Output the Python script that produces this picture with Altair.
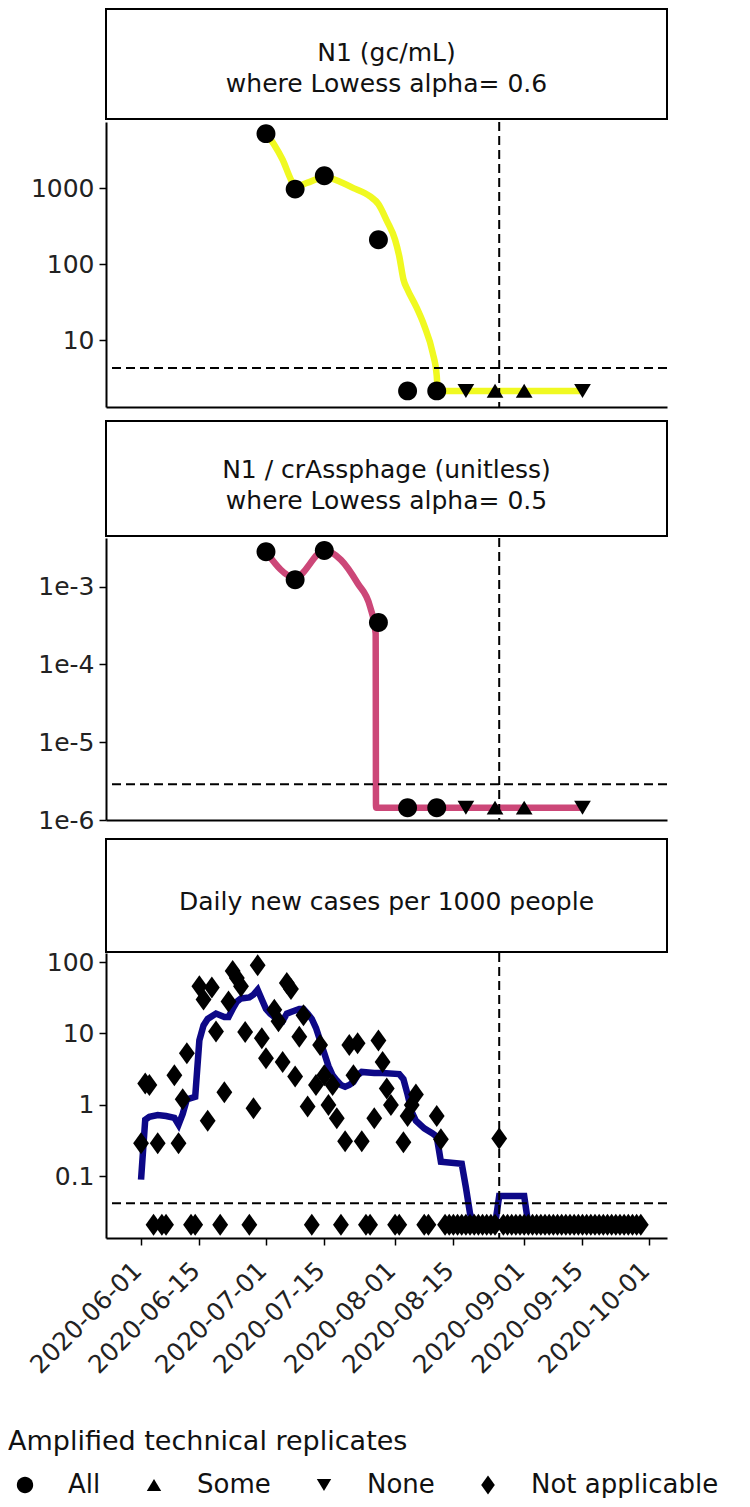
import altair as alt
import pandas as pd

FONT = "DejaVu Sans"

# ---------------- data ----------------
sample_dates = ["2020-07-01", "2020-07-08", "2020-07-15", "2020-07-28", "2020-08-04",
                "2020-08-11", "2020-08-18", "2020-08-25", "2020-09-01", "2020-09-15"]
sample_replicates = ["All", "All", "All", "All", "All", "All", "None", "Some", "Some", "None"]
n1_values = [5200, 970, 1450, 209, 2.15, 2.15, 2.15, 2.15, 2.15, 2.15]
ratio_values = [2.8e-3, 1.22e-3, 2.9e-3, 3.44e-4, 1.44e-6, 1.44e-6, 1.44e-6, 1.44e-6, 1.44e-6, 1.44e-6]

n1_lod = 4.3
ratio_lod = 2.87e-6
cases_lod = 0.042
marker_date = (2020, 8, 26)

n1_fit_dates = ["2020-07-01", "2020-07-03", "2020-07-05", "2020-07-07", "2020-07-08",
                "2020-07-11", "2020-07-15", "2020-07-22", "2020-07-26", "2020-07-28",
                "2020-07-30", "2020-08-01", "2020-08-02", "2020-08-03", "2020-08-04",
                "2020-08-06", "2020-08-08", "2020-08-10", "2020-08-11", "2020-08-11T06:00",
                "2020-09-15"]
n1_fit_values = [5200, 3700, 2360, 1290, 1040, 1180, 1390, 1000, 777, 616,
                 373, 209, 127, 63, 46, 28, 15.5, 6.9, 3.4, 2.15, 2.15]

ratio_fit_dates = ["2020-07-01", "2020-07-08", "2020-07-15", "2020-07-19", "2020-07-23",
                   "2020-07-26", "2020-07-27T08:00", "2020-07-27T10:00", "2020-09-15"]
ratio_fit_values = [2.8e-3, 1.3e-3, 2.9e-3, 2.2e-3, 1.1e-3, 5.5e-4, 2.5e-4, 1.44e-6, 1.44e-6]

case_dates = [
    "2020-06-01", "2020-06-02", "2020-06-03", "2020-06-04", "2020-06-05", "2020-06-06", "2020-06-07",
    "2020-06-09", "2020-06-10", "2020-06-11", "2020-06-12", "2020-06-13", "2020-06-14",
    "2020-06-15", "2020-06-16", "2020-06-17", "2020-06-18", "2020-06-19", "2020-06-20", "2020-06-21",
    "2020-06-22", "2020-06-23", "2020-06-24", "2020-06-25", "2020-06-26", "2020-06-27", "2020-06-28",
    "2020-06-29", "2020-06-30", "2020-07-01", "2020-07-03", "2020-07-04", "2020-07-05",
    "2020-07-06", "2020-07-07", "2020-07-08", "2020-07-09", "2020-07-10", "2020-07-11", "2020-07-12",
    "2020-07-13", "2020-07-14", "2020-07-15", "2020-07-16", "2020-07-17", "2020-07-18", "2020-07-19",
    "2020-07-20", "2020-07-21", "2020-07-22", "2020-07-23", "2020-07-24", "2020-07-25", "2020-07-26",
    "2020-07-27", "2020-07-28", "2020-07-29", "2020-07-30", "2020-07-31", "2020-08-01", "2020-08-02",
    "2020-08-03", "2020-08-04", "2020-08-05", "2020-08-06", "2020-08-08", "2020-08-09",
    "2020-08-11", "2020-08-12", "2020-08-13", "2020-08-14", "2020-08-15", "2020-08-16",
    "2020-08-17", "2020-08-18", "2020-08-19", "2020-08-20", "2020-08-21", "2020-08-22", "2020-08-23",
    "2020-08-24", "2020-08-25", "2020-08-26", "2020-08-27", "2020-08-28", "2020-08-29", "2020-08-30",
    "2020-08-31", "2020-09-01", "2020-09-02", "2020-09-03", "2020-09-04", "2020-09-05", "2020-09-06",
    "2020-09-07", "2020-09-08", "2020-09-09", "2020-09-10", "2020-09-11", "2020-09-12", "2020-09-13",
    "2020-09-14", "2020-09-15", "2020-09-16", "2020-09-17", "2020-09-18", "2020-09-19", "2020-09-20",
    "2020-09-21", "2020-09-22", "2020-09-23", "2020-09-24", "2020-09-25", "2020-09-26", "2020-09-27",
    "2020-09-28", "2020-09-29"]
case_values = [
    0.29, 2.0, 1.9, 0.021, 0.29, 0.021, 0.021,
    2.6, 0.29, 1.2, 5.3, 0.021, 0.021,
    46, 30, 0.6, 44, 10.7, 0.021, 1.5,
    28, 75, 60, 46, 10.5, 0.021, 0.9,
    90, 8.6, 4.5, 21.5, 14.8, 4.0,
    51, 42, 2.5, 9.0, 18, 0.95, 0.021,
    1.9, 6.9, 2.6, 1.0, 1.9, 0.65, 0.021,
    0.31, 6.9, 2.6, 7.3, 0.31, 0.021, 0.021,
    0.65, 8.0, 4.0, 1.7, 1.0, 0.021, 0.021,
    0.30, 0.70, 1.0, 1.4, 0.021, 0.021,
    0.70, 0.33, 0.021, 0.021, 0.021, 0.021,
    0.021, 0.021, 0.021, 0.021, 0.021, 0.021, 0.021,
    0.021, 0.021, 0.34, 0.021, 0.021, 0.021, 0.021,
    0.021, 0.021, 0.021, 0.021, 0.021, 0.021, 0.021,
    0.021, 0.021, 0.021, 0.021, 0.021, 0.021, 0.021,
    0.021, 0.021, 0.021, 0.021, 0.021, 0.021, 0.021,
    0.021, 0.021, 0.021, 0.021, 0.021, 0.021, 0.021,
    0.021, 0.021]

case_fit_dates = ["2020-06-01", "2020-06-02", "2020-06-03", "2020-06-05", "2020-06-07", "2020-06-09",
                  "2020-06-10", "2020-06-11", "2020-06-12", "2020-06-14", "2020-06-15", "2020-06-16",
                  "2020-06-17", "2020-06-19", "2020-06-21", "2020-06-22", "2020-06-23", "2020-06-24",
                  "2020-06-25", "2020-06-27", "2020-06-28", "2020-06-29", "2020-06-30", "2020-07-01",
                  "2020-07-02", "2020-07-03", "2020-07-05", "2020-07-06", "2020-07-07", "2020-07-09",
                  "2020-07-10", "2020-07-11", "2020-07-12", "2020-07-13", "2020-07-14", "2020-07-15",
                  "2020-07-16", "2020-07-17", "2020-07-18", "2020-07-19", "2020-07-20", "2020-07-21",
                  "2020-07-22", "2020-07-23", "2020-07-24", "2020-07-27", "2020-07-29", "2020-08-02",
                  "2020-08-03", "2020-08-04", "2020-08-05", "2020-08-06", "2020-08-08", "2020-08-10",
                  "2020-08-11", "2020-08-12", "2020-08-17", "2020-08-18", "2020-08-19", "2020-08-20",
                  "2020-08-25", "2020-08-26", "2020-09-01", "2020-09-02", "2020-09-29"]
case_fit_values = [0.09, 0.62, 0.68, 0.72, 0.70, 0.66,
                   0.53, 0.75, 1.2, 1.3, 8.0, 13,
                   16, 19, 17, 17, 22, 28,
                   31, 32, 35, 41, 30, 22,
                   19, 17, 15, 19, 20, 22,
                   22, 19, 16, 12, 8.0, 5.3,
                   3.5, 2.6, 2.2, 1.9, 1.8, 1.9,
                   2.1, 2.6, 2.9, 2.8, 2.8, 2.7,
                   2.3, 1.4, 0.8, 0.6, 0.47, 0.40,
                   0.36, 0.16, 0.15, 0.07, 0.03, 0.021,
                   0.021, 0.053, 0.053, 0.021, 0.021]

tick_dates = ["2020-06-01", "2020-06-15", "2020-07-01", "2020-07-15", "2020-08-01",
              "2020-08-15", "2020-09-01", "2020-09-15", "2020-10-01"]

replicate_levels = ["All", "Some", "None", "Not applicable"]
replicate_shapes = [
    "M0.86,0A0.86,0.86,0,1,1,-0.86,0A0.86,0.86,0,1,1,0.86,0Z",
    "M0,-0.64L0.76,0.62L-0.76,0.62Z",
    "M0,0.64L0.76,-0.62L-0.76,-0.62Z",
    "M0,-1L0.72,0L0,1L-0.72,0Z",
]


def to_dates(lst):
    return pd.to_datetime(lst, format="ISO8601")


# ---------------- tables ----------------
pts_n1 = pd.DataFrame({"date": to_dates(sample_dates), "value": n1_values, "rep": sample_replicates})
pts_ratio = pd.DataFrame({"date": to_dates(sample_dates), "value": ratio_values, "rep": sample_replicates})
pts_cases = pd.DataFrame({"date": to_dates(case_dates), "value": case_values,
                          "rep": ["Not applicable"] * len(case_dates)})
fit_n1 = pd.DataFrame({"date": to_dates(n1_fit_dates), "value": n1_fit_values})
fit_ratio = pd.DataFrame({"date": to_dates(ratio_fit_dates), "value": ratio_fit_values})
fit_cases = pd.DataFrame({"date": to_dates(case_fit_dates), "value": case_fit_values})
one_row = pd.DataFrame({"k": [0]})

# ---------------- layout constants ----------------
W = 561
L = 98  # space left of each plot for the y axis


def dt(s):
    return alt.DateTime(year=int(s[:4]), month=int(s[5:7]), date=int(s[8:10]))


xscale = alt.Scale(domain=[alt.DateTime(year=2020, month=5, date=23, hours=14),
                           alt.DateTime(year=2020, month=10, date=5, hours=7)])
axis_plain = alt.Axis(title=None, labels=False, ticks=False, grid=False,
                      domainColor="black", domainWidth=2)
axis_dates = alt.Axis(title=None, grid=False, values=[dt(s) for s in tick_dates],
                      labelExpr="timeFormat(datum.value, '%Y-%m-%d')", labelOverlap=False,
                      labelAngle=315, labelAlign="right", labelBaseline="middle",
                      labelPadding=21, labelOffset=-4, labelFontSize=25, labelFont=FONT,
                      labelColor="#222", tickSize=7, tickWidth=1.5, tickColor="black",
                      domainColor="black", domainWidth=2)
shape_scale = alt.Scale(domain=replicate_levels, range=replicate_shapes)
legend = alt.Legend(title="Amplified technical replicates")


def panel(fit_df, color, pts_df, lod, ydomain, yvalues, height, xaxis, interp, label_expr=None):
    ysc = alt.Scale(type="log", domain=ydomain, nice=False, zero=False)
    ax_kw = dict(title=None, grid=False, values=yvalues, labelFontSize=25, labelFont=FONT,
                 labelColor="#222", tickSize=7, tickWidth=1.5, tickColor="black",
                 domainColor="black", domainWidth=2, labelPadding=5,
                 minExtent=L, maxExtent=L)
    if label_expr:
        ax_kw["labelExpr"] = label_expr
    else:
        ax_kw["format"] = "~g"
    yax = alt.Axis(**ax_kw)
    X = alt.X("date:T", scale=xscale, axis=xaxis, title=None)
    Y = alt.Y("value:Q", scale=ysc, axis=yax, title=None)
    line = alt.Chart(fit_df).mark_line(color=color, strokeWidth=6.5, interpolate=interp,
                                       strokeCap="butt").encode(x=X, y=Y)
    pts = alt.Chart(pts_df).mark_point(filled=True, color="black", opacity=1, size=484,
                                       strokeWidth=0).encode(
        x=X, y=Y, shape=alt.Shape("rep:N", scale=shape_scale, legend=legend))
    hline = alt.Chart(one_row).mark_rule(color="black", strokeWidth=2, strokeDash=[9, 5]).encode(
        y=alt.Y(datum=lod, type="quantitative", scale=ysc, axis=yax))
    vline = alt.Chart(one_row).mark_rule(color="black", strokeWidth=2, strokeDash=[9, 5]).encode(
        x=alt.X(datum=alt.DateTime(year=marker_date[0], month=marker_date[1], date=marker_date[2]),
                type="temporal", scale=xscale, axis=xaxis))
    return alt.layer(line, pts, hline, vline).properties(width=W, height=height)


def title_box(lines, first_baseline, h):
    base = alt.Chart(one_row)
    box = base.mark_rect(fill="white", stroke="black", strokeWidth=2).encode(
        x=alt.value(0), x2=alt.value(W), y=alt.value(0), y2=alt.value(h))
    txt = base.mark_text(text=lines, font=FONT, fontSize=25, lineHeight=31, align="center",
                         baseline="alphabetic", color="#111").encode(
        x=alt.value(W / 2), y=alt.value(first_baseline))
    return alt.layer(box, txt).properties(width=W, height=h)


p1 = alt.vconcat(
    title_box(["N1 (gc/mL)", "where Lowess alpha= 0.6"], 52, 110),
    panel(fit_n1, "#f0f921", pts_n1, n1_lod, [1.32, 7400], [10, 100, 1000], 285, axis_plain,
          "monotone"),
    spacing=0)
p2 = alt.vconcat(
    title_box(["N1 / crAssphage (unitless)", "where Lowess alpha= 0.5"], 57, 115),
    panel(fit_ratio, "#cc4778", pts_ratio, ratio_lod, [1e-6, 0.0042], [1e-6, 1e-5, 1e-4, 1e-3], 282,
          axis_plain, "monotone", label_expr="'1e' + round(log(datum.value) / LN10)"),
    spacing=0)
p3 = alt.vconcat(
    title_box(["Daily new cases per 1000 people"], 71, 113),
    panel(fit_cases, "#0d0887", pts_cases, cases_lod, [0.0137, 134], [0.1, 1, 10, 100], 285,
          axis_dates, "linear"),
    spacing=-7)

top_two = alt.vconcat(p1, p2, spacing=12)
chart = alt.vconcat(top_two, p3, spacing=5).properties(
    padding={"left": 0, "top": 0, "right": 0, "bottom": 0}
).configure_view(stroke=None).configure_legend(
    orient="none", legendX=-L, legendY=1420, direction="horizontal",
    titleFont=FONT, titleFontSize=27, titleFontWeight="normal", titleColor="#111", titleLimit=0,
    labelFont=FONT, labelFontSize=26, labelColor="#111", labelLimit=0,
    symbolSize=360, symbolFillColor="black", symbolStrokeWidth=0, symbolOffset=4,
    labelOffset=30, columnPadding=36, titlePadding=16, padding=0,
)

chart.save("out.html", embed_options={"renderer": "svg", "actions": False})
